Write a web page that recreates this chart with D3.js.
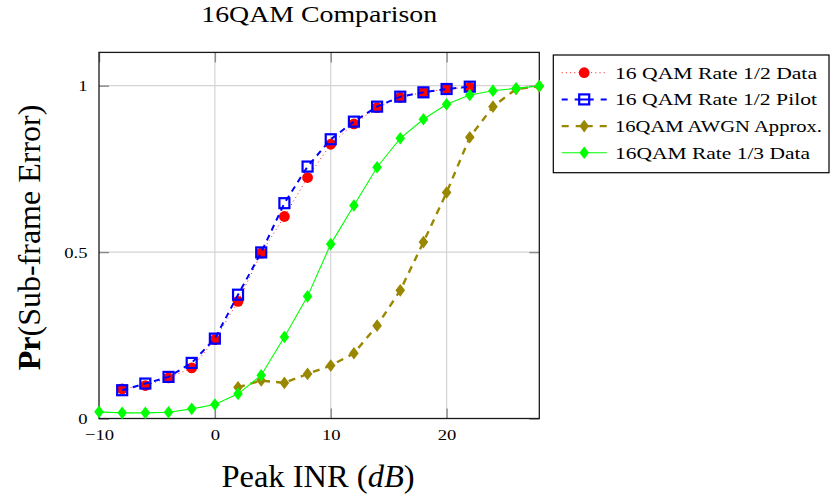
<!DOCTYPE html>
<html>
<head>
<meta charset="utf-8">
<script src="https://cdn.jsdelivr.net/npm/d3@7"></script>
<style>
  html, body { margin: 0; padding: 0; background: #fff; }
  svg { display: block; }
  text { font-family: "Liberation Serif", "Times New Roman", serif; fill: #000; }
</style>
</head>
<body>
<svg id="chart" width="831" height="498"></svg>
<script>
// Peak INR (dB) sample points for each curve
const snrHalf  = [-8, -6, -4, -2, 0, 2, 4, 6, 8, 10, 12, 14, 16, 18, 20, 22];
const snrAwgn  = [2, 4, 6, 8, 10, 12, 14, 16, 18, 20, 22, 24, 26, 28];
const snrThird = [-10, -8, -6, -4, -2, 0, 2, 4, 6, 8, 10, 12, 14, 16, 18, 20, 22, 24, 26, 28];

// Sub-frame error probabilities
const halfData  = [0.089, 0.099, 0.122, 0.152, 0.237, 0.352, 0.497, 0.607, 0.724, 0.824, 0.885, 0.934, 0.965, 0.980, 0.990, 0.995];
const halfPilot = [0.085, 0.105, 0.125, 0.167, 0.240, 0.372, 0.499, 0.647, 0.757, 0.839, 0.892, 0.937, 0.967, 0.980, 0.990, 0.997];
const awgnApprox = [0.094, 0.114, 0.107, 0.134, 0.159, 0.196, 0.279, 0.385, 0.530, 0.679, 0.845, 0.937, 0.990, 0.998];
const thirdData = [0.020, 0.017, 0.017, 0.019, 0.029, 0.042, 0.074, 0.130, 0.245, 0.367, 0.524, 0.640, 0.755, 0.842, 0.899, 0.944, 0.972, 0.985, 0.992, 0.999];

// Axis ticks
const xTicks = [-10, 0, 10, 20];
const xTickLabels = ["\u221210", "0", "10", "20"];
const yTicks = [0, 0.5, 1];
const yTickLabels = ["0", "0.5", "1"];

const seriesNames = ["16 QAM Rate 1/2 Data", "16 QAM Rate 1/2 Pilot", "16QAM AWGN Approx.", "16QAM Rate 1/3 Data"];

const svg = d3.select("#chart");
const plot = { left: 99, right: 539.3, top: 52.4, bottom: 418.5 };

const x = d3.scaleLinear().domain([-10, 28]).range([plot.left, plot.right]);
const y = d3.scaleLinear().domain([0, 1.1]).range([plot.bottom, plot.top]);

// Grid
const grid = svg.append("g");
grid.selectAll(".gx").data(xTicks.filter(v => v > -10)).join("line")
  .attr("x1", d => x(d)).attr("x2", d => x(d))
  .attr("y1", plot.top).attr("y2", plot.bottom)
  .attr("stroke", "#d4d4d4").attr("stroke-width", 1.2);
grid.selectAll(".gy").data(yTicks.filter(v => v > 0)).join("line")
  .attr("x1", plot.left).attr("x2", plot.right)
  .attr("y1", d => y(d)).attr("y2", d => y(d))
  .attr("stroke", "#d4d4d4").attr("stroke-width", 1.2);

// Axes with inward ticks on all four sides
const tickLen = 10;
const fmtX = d => xTickLabels[xTicks.indexOf(d)];
const fmtY = d => yTickLabels[yTicks.indexOf(d)];

const axB = svg.append("g").attr("transform", `translate(0,${plot.bottom})`)
  .call(d3.axisBottom(x).tickValues(xTicks).tickSize(-tickLen).tickFormat(fmtX).tickPadding(0));
const axT = svg.append("g").attr("transform", `translate(0,${plot.top})`)
  .call(d3.axisTop(x).tickValues(xTicks).tickSize(-tickLen).tickFormat(""));
const axL = svg.append("g").attr("transform", `translate(${plot.left},0)`)
  .call(d3.axisLeft(y).tickValues(yTicks).tickSize(-tickLen).tickFormat(fmtY));
const axR = svg.append("g").attr("transform", `translate(${plot.right},0)`)
  .call(d3.axisRight(y).tickValues(yTicks).tickSize(-tickLen).tickFormat(""));

[axB, axT, axL, axR].forEach(g => {
  g.select(".domain").remove();
  g.selectAll(".tick line").attr("stroke", "#8a8a8a").attr("stroke-width", 1.4);
});

// Tick label styling (slightly widened serif figures)
const tickSx = 1.2;
axB.selectAll(".tick text")
  .attr("font-family", "Liberation Serif, serif").attr("font-size", 15.5).attr("fill", "#000")
  .attr("x", null).attr("y", null).attr("dy", null)
  .attr("text-anchor", "middle")
  .attr("transform", `translate(0,21.8) scale(${tickSx},1)`);
axL.selectAll(".tick text")
  .attr("font-family", "Liberation Serif, serif").attr("font-size", 15.5).attr("fill", "#000")
  .attr("x", null).attr("dy", "0.33em")
  .attr("text-anchor", "end")
  .attr("transform", `translate(-11.5,0) scale(${tickSx},1)`);

// Plot frame
svg.append("rect")
  .attr("x", plot.left).attr("y", plot.top)
  .attr("width", plot.right - plot.left).attr("height", plot.bottom - plot.top)
  .attr("fill", "none").attr("stroke", "#1a1a1a").attr("stroke-width", 1.3);

// Series definitions
const olive = "#9a8700";
const series = [
  { name: seriesNames[0], xs: snrHalf, ys: halfData, color: "#ff0000", width: 0.9, dash: "1,3.2", marker: "circle" },
  { name: seriesNames[1], xs: snrHalf, ys: halfPilot, color: "#0000ff", width: 2, dash: "6,5", marker: "square" },
  { name: seriesNames[2], xs: snrAwgn, ys: awgnApprox, color: olive, width: 2.4, dash: "7,6", marker: "diamond" },
  { name: seriesNames[3], xs: snrThird, ys: thirdData, color: "#00ff00", width: 1.1, dash: null, marker: "diamond" }
];

const line = d3.line().x(d => x(d[0])).y(d => y(d[1]));

function drawMarker(g, type, color, cx, cy) {
  if (type === "circle") {
    g.append("circle").attr("cx", cx).attr("cy", cy).attr("r", 5.4).attr("fill", color);
  } else if (type === "square") {
    const s = 10;
    g.append("rect").attr("x", cx - s / 2).attr("y", cy - s / 2).attr("width", s).attr("height", s)
      .attr("fill", "none").attr("stroke", color).attr("stroke-width", 2.2);
  } else {
    const w = 4.8, h = 6.3;
    g.append("path").attr("d", `M${cx},${cy - h}L${cx + w},${cy}L${cx},${cy + h}L${cx - w},${cy}Z`)
      .attr("fill", color);
  }
}

series.forEach(s => {
  const pts = s.xs.map((v, i) => [v, s.ys[i]]);
  const g = svg.append("g");
  const p = g.append("path").datum(pts).attr("d", line)
    .attr("fill", "none").attr("stroke", s.color).attr("stroke-width", s.width);
  if (s.dash) p.attr("stroke-dasharray", s.dash);
  pts.forEach(d => drawMarker(g, s.marker, s.color, x(d[0]), y(d[1])));
});

// Title
svg.append("text")
  .attr("text-anchor", "middle").attr("font-size", 24)
  .attr("transform", `translate(${(plot.left + plot.right) / 2},21.5) scale(1.16,1)`)
  .text("16QAM Comparison");

// X axis label
const xl = svg.append("text")
  .attr("text-anchor", "middle").attr("font-size", 32.5)
  .attr("x", 318).attr("y", 486.7);
xl.append("tspan").text("Peak INR (");
xl.append("tspan").attr("font-style", "italic").text("dB");
xl.append("tspan").text(")");

// Y axis label
const yl = svg.append("text")
  .attr("text-anchor", "middle").attr("font-size", 32)
  .attr("transform", `translate(39.5,${(plot.top + plot.bottom) / 2 + 2}) rotate(-90)`);
yl.append("tspan").attr("font-weight", "bold").text("Pr");
yl.append("tspan").text("(Sub-frame Error)");

// Legend
const leg = { x: 553.3, y: 55, w: 275.7, h: 117.7, row0: 72.7, rowStep: 26.7 };
const legTextWidths = [202, 202, 207, 195];
const lg = svg.append("g");
lg.append("rect").attr("x", leg.x).attr("y", leg.y).attr("width", leg.w).attr("height", leg.h)
  .attr("fill", "#fff").attr("stroke", "#000").attr("stroke-width", 1.2);

series.forEach((s, i) => {
  const cy = leg.row0 + i * leg.rowStep;
  const x0 = 561.7, x1 = 606.7, xm = (x0 + x1) / 2;
  const ln = lg.append("line").attr("x1", x0).attr("x2", x1).attr("y1", cy).attr("y2", cy)
    .attr("stroke", s.color).attr("stroke-width", s.width);
  if (s.marker === "square") ln.attr("stroke-dasharray", "6,7,19,7,6");
  else if (s.marker === "diamond" && s.dash) ln.attr("stroke-dasharray", "7,7,17,7,7");
  else if (s.dash) ln.attr("stroke-dasharray", s.dash);
  drawMarker(lg, s.marker, s.color, xm, cy);
  lg.append("text").attr("font-size", 17)
    .attr("x", 615).attr("y", cy + 5.8)
    .attr("textLength", legTextWidths[i]).attr("lengthAdjust", "spacingAndGlyphs")
    .text(s.name);
});
</script>
</body>
</html>
